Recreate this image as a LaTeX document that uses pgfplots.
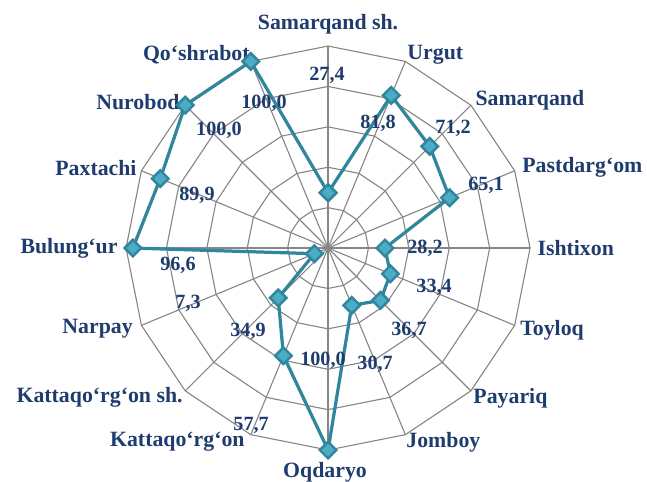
\documentclass[border=0pt]{standalone}
\usepackage{pgfplots}
\pgfplotsset{compat=1.18}
\usepackage{fontspec}
\setmainfont{Liberation Serif}
\definecolor{lblc}{RGB}{31,60,110}
\definecolor{linec}{RGB}{49,133,156}
\definecolor{markc}{RGB}{75,172,198}
\definecolor{gridc}{RGB}{134,134,134}
\begin{document}
\begin{tikzpicture}
\begin{axis}[
  scale only axis, hide axis, clip=false,
  x=1pt, y=1pt,
  xmin=-162.4, xmax=157.9, ymin=-115.8, ymax=122.8,
  every node/.style={inner sep=0pt},
]
% invisible frame that fixes the picture's size
\path (rel axis cs:0,0) rectangle (rel axis cs:1,1);
% grid rings (16-gons)
\pgfplotsinvokeforeach{20,40,60,80,100}{
  \draw[gridc, line width=0.55pt] (axis cs:#1,0) \foreach \a in {22.5,45,...,337.5}{ -- (axis cs:{#1*cos(\a)},{#1*sin(\a)}) } -- cycle;
}
% spokes
\pgfplotsinvokeforeach{0,22.5,...,337.5}{
  \draw[gridc, line width=0.55pt] (axis cs:0,0) -- (axis cs:{100*cos(#1)},{100*sin(#1)});
}
% data (angle, value)
\addplot[data cs=polar, color=linec, line width=1.6pt, mark=square*,
  mark size=2.9pt, mark options={rotate=45, fill=markc, draw=linec, line width=1.2pt}]
  coordinates {
  (90,27.4) (67.5,81.8) (45,71.2) (22.5,65.1) (0,28.2) (-22.5,33.4)
  (-45,36.7) (-67.5,30.7) (-90,100.0) (-112.5,57.7) (-135,34.9)
  (-157.5,7.3) (-180,96.6) (-202.5,89.9) (-225,100.0) (-247.5,100.0) (-270,27.4)
  };
% data labels
\begin{scope}[every node/.style={inner sep=0pt, text=lblc, font=\fontsize{10}{12}\selectfont\bfseries}]
\node at (axis cs:-0.5,85.6) {27,4};
\node at (axis cs:24.8,61.9) {81,8};
\node at (axis cs:61.9,59.4) {71,2};
\node at (axis cs:78.2,31.2) {65,1};
\node at (axis cs:48.0,0) {28,2};
\node at (axis cs:52.5,-19.3) {33,4};
\node at (axis cs:40.1,-40.6) {36,7};
\node at (axis cs:23.3,-57.4) {30,7};
\node at (axis cs:-2.5,-55.4) {100,0};
\node at (axis cs:-38.1,-87.6) {57,7};
\node at (axis cs:-39.6,-41.1) {34,9};
\node at (axis cs:-69.3,-27.2) {7,3};
\node at (axis cs:-74.3,-8.4) {96,6};
\node at (axis cs:-64.9,26.2) {89,9};
\node at (axis cs:-54.0,58.4) {100,0};
\node at (axis cs:-31.7,71.8) {100,0};
\end{scope}
% category labels
\begin{scope}[every node/.style={inner sep=0pt, text=lblc, font=\fontsize{10.8}{13}\selectfont\bfseries}]
\node at (axis cs:0,110.9) {Samarqand sh.};
\node[anchor=west] at (axis cs:39.1,95.5) {Urgut};
\node[anchor=west] at (axis cs:72.8,73.3) {Samarqand};
\node[anchor=west] at (axis cs:96.0,40.1) {Pastdarg‘om};
\node[anchor=west] at (axis cs:103.5,0) {Ishtixon};
\node[anchor=west] at (axis cs:95.0,-40.6) {Toyloq};
\node[anchor=west] at (axis cs:71.8,-74.3) {Payariq};
\node[anchor=west] at (axis cs:38.6,-96.0) {Jomboy};
\node at (axis cs:-1.5,-110.9) {Oqdaryo};
\node[anchor=east] at (axis cs:-41.1,-96.0) {Kattaqo‘rg‘on};
\node[anchor=east] at (axis cs:-71.8,-73.8) {Kattaqo‘rg‘on sh.};
\node[anchor=east] at (axis cs:-96.5,-40.1) {Narpay};
\node[anchor=east] at (axis cs:-104.0,0) {Bulung‘ur};
\node[anchor=east] at (axis cs:-94.6,39.6) {Paxtachi};
\node[anchor=east] at (axis cs:-73.3,72.3) {Nurobod};
\node[anchor=east] at (axis cs:-38.6,95.5) {Qo‘shrabot};
\end{scope}
\end{axis}
\end{tikzpicture}
\end{document}
